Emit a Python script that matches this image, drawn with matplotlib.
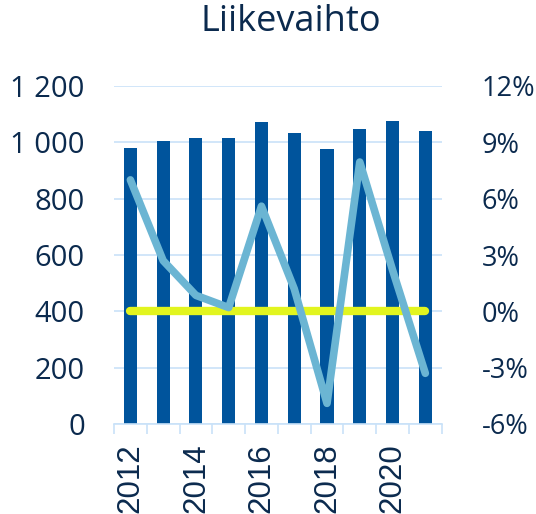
import matplotlib
matplotlib.use("Agg")
import matplotlib.pyplot as plt
from matplotlib.ticker import FixedLocator, FuncFormatter

years = [2012, 2013, 2014, 2015, 2016, 2017, 2018, 2019, 2020, 2021]
revenue = [979, 1005, 1015, 1015, 1073, 1033, 976, 1049, 1075, 1040]
growth = [7.0, 2.7, 0.85, 0.2, 5.6, 1.2, -4.9, 7.95, 2.2, -3.3]
baseline = [0.0] * len(years)

left_ticks = [0, 200, 400, 600, 800, 1000, 1200]
right_ticks = [-6, -3, 0, 3, 6, 9, 12]

navy = "#0b2a4e"
bar_color = "#00549c"
line_color = "#6bb5d3"
zero_color = "#e2f51f"
grid_color = "#c9e2f8"

fig = plt.figure(figsize=(5.36, 5.14), dpi=100)
ax = fig.add_axes([114 / 536, 1 - 424 / 514, (441.7 - 114) / 536, (424 - 86) / 514])
x = list(range(len(years)))

ax.bar(x, revenue, width=0.4, color=bar_color, zorder=2)
ax.set_xlim(-0.5, len(years) - 0.5)
ax.set_ylim(left_ticks[0], left_ticks[-1])
ax.yaxis.set_major_locator(FixedLocator(left_ticks))
ax.yaxis.set_major_formatter(FuncFormatter(lambda v, p: f"{int(v):,}".replace(",", " ")))
ax.grid(axis="y", color=grid_color, linewidth=1.2, zorder=0)
ax.set_axisbelow(True)
for s in ["top", "right", "left"]:
    ax.spines[s].set_visible(False)
ax.spines["bottom"].set_color(grid_color)
ax.spines["bottom"].set_linewidth(1.2)
ax.tick_params(axis="y", length=0, pad=21, labelsize=21, labelcolor=navy)
ax.set_xticks([i - 0.5 for i in range(len(years) + 1)])
ax.set_xticklabels([])
ax.tick_params(axis="x", which="major", direction="out", length=7.2, width=1.2, color=grid_color)
ax.set_xticks(x[::2], minor=True)
ax.set_xticklabels([str(y) for y in years[::2]], minor=True, rotation=90,
                   fontsize=22.5, color=navy, family="Liberation Sans")
ax.tick_params(axis="x", which="minor", length=0, pad=14)
for lab in ax.get_yticklabels():
    lab.set_family("Open Sans")

ax2 = ax.twinx()
ax2.set_ylim(right_ticks[0], right_ticks[-1])
ax2.yaxis.set_major_locator(FixedLocator(right_ticks))
ax2.yaxis.set_major_formatter(FuncFormatter(lambda v, p: f"{int(v)}%"))
for s in ["top", "right", "left", "bottom"]:
    ax2.spines[s].set_visible(False)
ax2.tick_params(axis="y", length=0, pad=29, labelsize=19.5, labelcolor=navy)
for lab in ax2.get_yticklabels():
    lab.set_family("Open Sans")
ax2.plot(x, baseline, color=zero_color, linewidth=6, solid_capstyle="round", zorder=3)
ax2.plot(x, growth, color=line_color, linewidth=5.5, solid_capstyle="round",
         solid_joinstyle="round", zorder=4)

fig.text(291 / 536, 1 - 22 / 514, "Liikevaihto", ha="center", va="center",
         fontsize=26, color=navy, family="Open Sans")

fig.savefig("out.png", dpi=100)
